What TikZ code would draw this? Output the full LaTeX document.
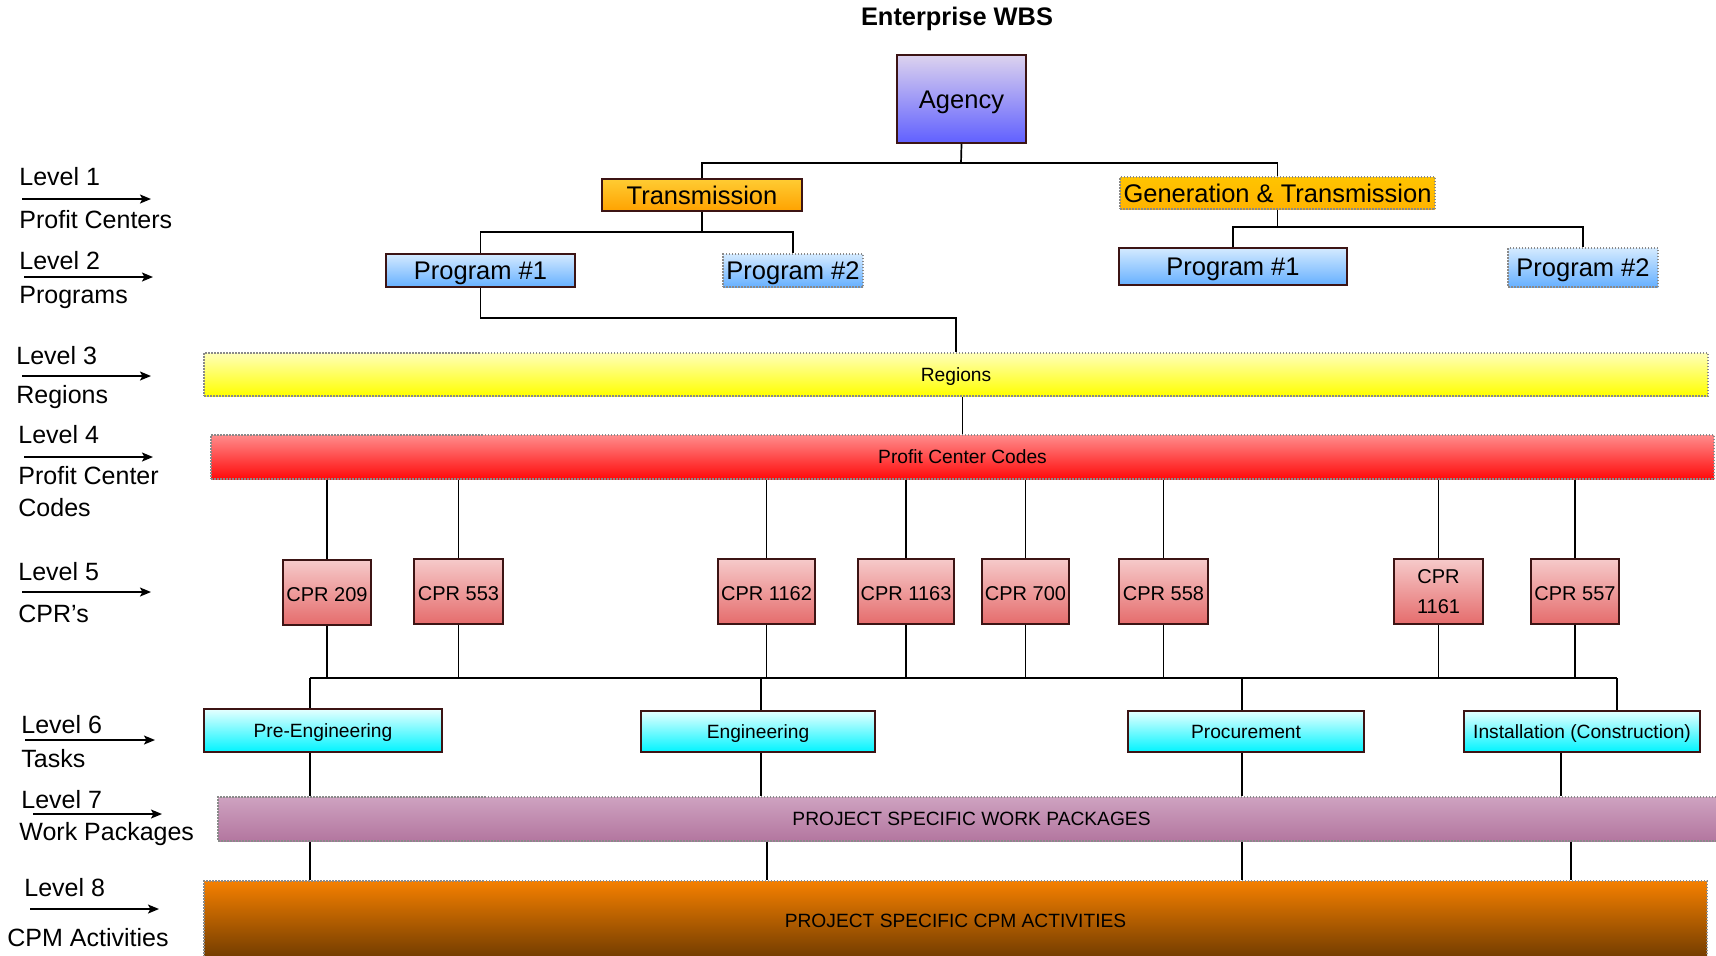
\documentclass[tikz,border=0pt]{standalone}
\usepackage{fontspec}
\setmainfont{Liberation Sans}
\usetikzlibrary{arrows.meta}

% colours of the boxes (top / bottom of each gradient)
\definecolor{edge}{HTML}{3C1414}
\definecolor{dotc}{HTML}{8A8A8A}
\definecolor{agTop}{HTML}{DCD2EE}\definecolor{agBot}{HTML}{6060FF}
\definecolor{trTop}{HTML}{FFCC33}\definecolor{trBot}{HTML}{FFA200}
\definecolor{gtTop}{HTML}{FFC400}\definecolor{gtBot}{HTML}{FFB300}
\definecolor{prTop}{HTML}{D4EAFF}\definecolor{prBot}{HTML}{66B0FF}
\definecolor{rgTop}{HTML}{FFFFB8}\definecolor{rgBot}{HTML}{FFFF00}
\definecolor{pcTop}{HTML}{FF8C8C}\definecolor{pcBot}{HTML}{FF0A0A}
\definecolor{cpTop}{HTML}{F6CACA}\definecolor{cpBot}{HTML}{E56C6C}
\definecolor{tkTop}{HTML}{E6FFFF}\definecolor{tkBot}{HTML}{00F4FF}
\definecolor{wpTop}{HTML}{CEA2C0}\definecolor{wpBot}{HTML}{B3769F}
\definecolor{cmTop}{HTML}{F58000}\definecolor{cmBot}{HTML}{6E3A00}

% box given by its corners: name, x1, y1, x2, y2, style, text
\newcommand\wbsbox[7]{%
  \node[#6, minimum width={(#4-#2)*0.5pt}, minimum height={(#5-#3)*0.5pt}]
    (#1) at ({(#2+#4)/2},{(#3+#5)/2}) {#7};}

\tikzset{
  solidbox/.style={draw=edge, line width=0.75pt, inner sep=0pt},
  dotbox/.style={draw=dotc, line width=0.75pt, dash pattern=on 0.75pt off 0.75pt, inner sep=0pt},
  % text boxes sized to the capitals so that labels sit centred
  bigtext/.style={font=\fontsize{12.75}{15}\selectfont, text height=9.13pt, text depth=0pt},
  smalltext/.style={font=\fontsize{9.6}{12}\selectfont, text height=6.87pt, text depth=0pt},
  cprtext/.style={font=\fontsize{10}{15}\selectfont, text height=9.16pt, text depth=0pt},
  cprtwo/.style={font=\fontsize{10}{15}\selectfont, align=center},
  wbslink/.style={draw=black, line width=0.85pt},
  lvl/.style={anchor=base west, inner sep=0pt, font=\fontsize{12.5}{15}\selectfont},
  lvlarrow/.style={line width=0.7pt, -{Stealth[length=5.5pt,width=4.5pt,inset=1.2pt]}},
  agencyfill/.style={top color=agTop, bottom color=agBot},
  transfill/.style={top color=trTop, bottom color=trBot},
  gtfill/.style={top color=gtTop, bottom color=gtBot},
  progfill/.style={top color=prTop, bottom color=prBot},
  regfill/.style={top color=rgTop, bottom color=rgBot},
  pccfill/.style={top color=pcTop, bottom color=pcBot},
  cprfill/.style={top color=cpTop, bottom color=cpBot},
  taskfill/.style={top color=tkTop, bottom color=tkBot},
  wpfill/.style={top color=wpTop, bottom color=wpBot},
  cpmfill/.style={top color=cmTop, bottom color=cmBot},
}

\begin{document}
\begin{tikzpicture}[x=0.5pt,y=-0.5pt]
\useasboundingbox (0,0) rectangle (1716,955);

% title
\node[anchor=base, inner sep=0pt, font=\fontsize{12.7}{15}\selectfont\bfseries] (title) at (957,25) {Enterprise WBS};

% level 0 - 2
\wbsbox{agency}{897}{55}{1026}{143}{solidbox,agencyfill,bigtext}{Agency}
\wbsbox{trans}{602}{179}{802}{211}{solidbox,transfill,bigtext}{Transmission}
\wbsbox{gt}{1120}{177}{1435}{209}{dotbox,gtfill,bigtext}{Generation \& Transmission}
\wbsbox{p1a}{386}{254}{575}{287}{solidbox,progfill,bigtext}{Program \#1}
\wbsbox{p2a}{723}{254}{863}{287}{dotbox,progfill,bigtext}{Program \#2}
\wbsbox{p1b}{1119}{248}{1347}{285}{solidbox,progfill,bigtext}{Program \#1}
\wbsbox{p2b}{1508}{248}{1658}{287}{dotbox,progfill,bigtext}{Program \#2}

% levels 3 and 4
\wbsbox{regions}{204}{353}{1708}{396}{dotbox,regfill,smalltext}{Regions}
\wbsbox{pcc}{211}{435}{1714}{479}{dotbox,pccfill,smalltext}{Profit Center Codes}

% level 5
\wbsbox{c209}{283}{560}{371}{625}{solidbox,cprfill,cprtext}{CPR 209}
\wbsbox{c553}{414}{559}{503}{624}{solidbox,cprfill,cprtext}{CPR 553}
\wbsbox{c1162}{718}{559}{815}{624}{solidbox,cprfill,cprtext}{CPR 1162}
\wbsbox{c1163}{858}{559}{954}{624}{solidbox,cprfill,cprtext}{CPR 1163}
\wbsbox{c700}{982}{559}{1069}{624}{solidbox,cprfill,cprtext}{CPR 700}
\wbsbox{c558}{1119}{559}{1208}{624}{solidbox,cprfill,cprtext}{CPR 558}
\wbsbox{c1161}{1394}{559}{1483}{624}{solidbox,cprfill,cprtwo}{CPR\\1161}
\wbsbox{c557}{1531}{559}{1619}{624}{solidbox,cprfill,cprtext}{CPR 557}

% level 6
\wbsbox{pre}{204}{709}{442}{752}{solidbox,taskfill,smalltext}{Pre-Engineering}
\wbsbox{eng}{641}{711}{875}{752}{solidbox,taskfill,smalltext}{Engineering}
\wbsbox{proc}{1128}{711}{1364}{752}{solidbox,taskfill,smalltext}{Procurement}
\wbsbox{inst}{1464}{711}{1700}{752}{solidbox,taskfill,smalltext}{Installation (Construction)}

% levels 7 and 8
\wbsbox{wp}{218}{797}{1725}{841}{dotbox,wpfill,smalltext}{PROJECT SPECIFIC WORK PACKAGES}
\wbsbox{cpm}{204}{881}{1707}{960}{dotbox,cpmfill,smalltext}{PROJECT SPECIFIC CPM ACTIVITIES}

% junction points
\coordinate (b1) at (961,163);
\coordinate (b2) at (702,232);
\coordinate (b3) at (1277.5,227);
\coordinate (b4) at (956,318);
\coordinate (t1) at (310,678);
\coordinate (t2) at (761,678);
\coordinate (t3) at (1242,678);
\coordinate (t4) at (1617,678);
\coordinate (u4) at (1561,0);
\coordinate (v2) at (767,0);
\coordinate (v4) at (1571,0);

% tree connectors
\draw[wbslink] (agency.south) -- (b1);
\draw[wbslink] (trans.north) |- (b1) -| (gt.north);
\draw[wbslink] (trans.south) -- (b2);
\draw[wbslink] (p1a.north) |- (b2) -| (p2a.north);
\draw[wbslink] (gt.south) -- (b3);
\draw[wbslink] (p1b.north) |- (b3) -| (p2b.north);
\draw[wbslink] (p1a.south) |- (b4) -- (regions.north);
\draw[wbslink] (pcc.north) -- (pcc.north |- regions.south);

\foreach \c in {c209,c553,c1162,c1163,c700,c558,c1161,c557}{
  \draw[wbslink] (\c.north) -- (\c.north |- pcc.south);
  \draw[wbslink] (\c.south) -- (\c.south |- t1);
}
\draw[wbslink] (t1) -- (t4);
\draw[wbslink] (t1) -- (t1 |- pre.north);
\draw[wbslink] (t2) -- (t2 |- eng.north);
\draw[wbslink] (t3) -- (t3 |- proc.north);
\draw[wbslink] (t4) -- (t4 |- inst.north);

\draw[wbslink] (t1 |- pre.south) -- (t1 |- wp.north);
\draw[wbslink] (t2 |- eng.south) -- (t2 |- wp.north);
\draw[wbslink] (t3 |- proc.south) -- (t3 |- wp.north);
\draw[wbslink] (u4 |- inst.south) -- (u4 |- wp.north);

\draw[wbslink] (t1 |- wp.south) -- (t1 |- cpm.north);
\draw[wbslink] (v2 |- wp.south) -- (v2 |- cpm.north);
\draw[wbslink] (t3 |- wp.south) -- (t3 |- cpm.north);
\draw[wbslink] (v4 |- wp.south) -- (v4 |- cpm.north);

% level legend
\node[lvl] (l1) at (19,185) {Level 1};
\node[lvl] (l1b) at (19,228) {Profit Centers};
\coordinate (a1s) at (22,199); \coordinate (a1e) at (151,199);
\draw[lvlarrow] (a1s) -- (a1e);

\node[lvl] (l2) at (19,269) {Level 2};
\node[lvl] (l2b) at (19,303) {Programs};
\coordinate (a2s) at (24,277); \coordinate (a2e) at (153,277);
\draw[lvlarrow] (a2s) -- (a2e);

\node[lvl] (l3) at (16,364) {Level 3};
\node[lvl] (l3b) at (16,403) {Regions};
\coordinate (a3s) at (22,376); \coordinate (a3e) at (151,376);
\draw[lvlarrow] (a3s) -- (a3e);

\node[lvl] (l4) at (18,443) {Level 4};
\node[lvl] (l4b) at (18,484) {Profit Center};
\node[lvl] (l4c) at (18,516) {Codes};
\coordinate (a4s) at (24,457); \coordinate (a4e) at (153,457);
\draw[lvlarrow] (a4s) -- (a4e);

\node[lvl] (l5) at (18,580) {Level 5};
\node[lvl] (l5b) at (18,622) {CPR's};
\coordinate (a5s) at (22,592); \coordinate (a5e) at (151,592);
\draw[lvlarrow] (a5s) -- (a5e);

\node[lvl] (l6) at (21,733) {Level 6};
\node[lvl] (l6b) at (21,767) {Tasks};
\coordinate (a6s) at (25,740); \coordinate (a6e) at (155,740);
\draw[lvlarrow] (a6s) -- (a6e);

\node[lvl] (l7) at (21,808) {Level 7};
\node[lvl] (l7b) at (19,840) {Work Packages};
\coordinate (a7s) at (33,814); \coordinate (a7e) at (162,814);
\draw[lvlarrow] (a7s) -- (a7e);

\node[lvl] (l8) at (24,896) {Level 8};
\node[lvl] (l8b) at (7,946) {CPM Activities};
\coordinate (a8s) at (30,909); \coordinate (a8e) at (159,909);
\draw[lvlarrow] (a8s) -- (a8e);
\end{tikzpicture}
\end{document}
